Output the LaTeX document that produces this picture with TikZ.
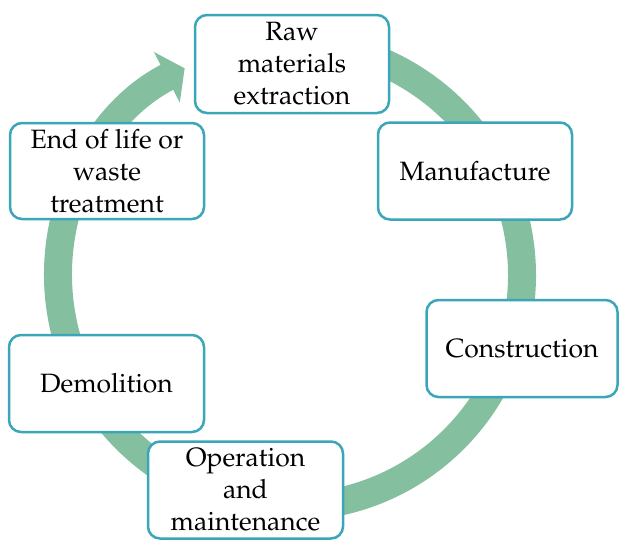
\documentclass[tikz,border=0pt]{standalone}
\usepackage[T1]{fontenc}
\usepackage{mathpazo}
\usetikzlibrary{arrows.meta,calc}
\definecolor{ringgreen}{HTML}{84BF9F}
\definecolor{boxteal}{HTML}{3AA6B8}
\tikzset{
  stagebox/.style={draw=boxteal, line width=2.5pt, fill=white, rounded corners=12pt,
    align=center, inner sep=0pt, font=\fontsize{26.5}{32}\selectfont},
  ring/.style={draw=ringgreen, line width=28pt}
}
\begin{document}
\begin{tikzpicture}[x=1pt,y=-1pt]
\useasboundingbox (0,0) rectangle (619,539);
\coordinate (C) at (290,275);
\draw[ring, -{Triangle[width=56pt,length=20pt]}]
  ($(C)+(97:232pt)$) arc[start angle=97, end angle=-243, radius=232pt];
\node[stagebox, minimum width=194pt, minimum height=98pt] (raw) at (292,64) {Raw\\materials\\extraction};
\node[stagebox, minimum width=194pt, minimum height=97pt] (man) at (475,171) {Manufacture};
\node[stagebox, minimum width=191pt, minimum height=97pt] (con) at (522,348.5) {Construction};
\node[stagebox, minimum width=195pt, minimum height=97pt] (ope) at (245.5,490) {Operation\\and\\maintenance};
\node[stagebox, minimum width=195pt, minimum height=97pt] (dem) at (106.5,383.5) {Demolition};
\node[stagebox, minimum width=194pt, minimum height=96pt] (eol) at (107,171) {End of life or\\waste\\treatment};
\end{tikzpicture}
\end{document}
